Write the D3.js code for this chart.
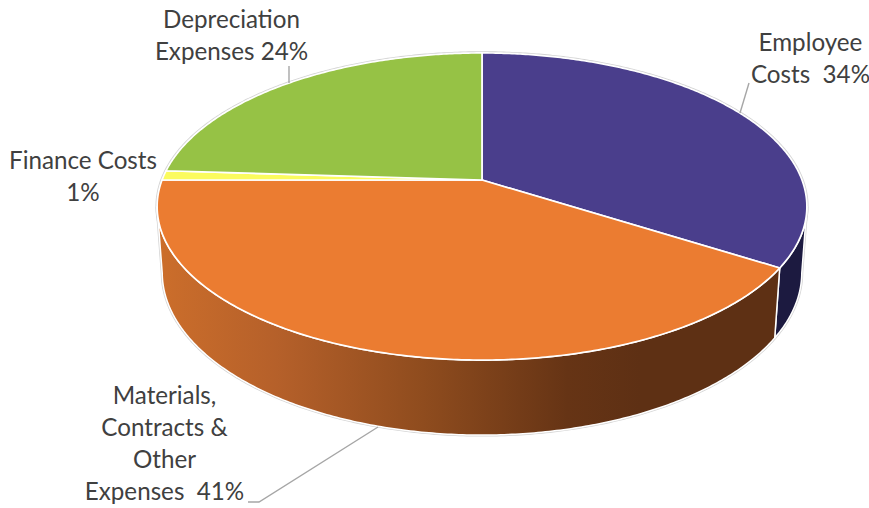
<!DOCTYPE html>
<html>
<head>
<meta charset="utf-8">
<style>
html,body{margin:0;padding:0;background:#fff;}
svg{display:block;}
text{font-family:Lato,"Open Sans",sans-serif;font-size:24.2px;fill:#404040;white-space:pre;}
</style>
<script src="https://cdn.jsdelivr.net/npm/d3@7/dist/d3.min.js"></script>
</head>
<body>
<svg id="chart" width="869" height="508"></svg>
<script>
const categories = ["Employee Costs","Materials, Contracts & Other Expenses","Finance Costs","Depreciation Expenses"];
const values = [34,41,1,24];
const labelLines = [["Employee","Costs  34%"],["Materials,","Contracts &","Other","Expenses  41%"],["Finance Costs","1%"],["Depreciation","Expenses 24%"]];
const topColors = ["#4a3e8c","#eb7c31","#fbfb5e","#96c245"];
const sideColors = ["#1c1a40","url(#orangeSide)","#8a8a30","#55702a"];

// layout
const W=869,H=508;
const cx=482, apexY=180, f=320, g=149, k=0.1726, q=0.0155, m=66;
const visible=[100*Math.PI/180,260*Math.PI/180];
const labelPos=[{x:810.5,y:50.8},{x:164.5,y:403.8},{x:83,y:168.8},{x:231.5,y:27.8}];
const leaders=[[[749,83],[740,113]],[[248,502],[259,502],[378,427]],[],[[289,66],[289,83]]];
const lineH=32;

const svg=d3.select("#chart");
const defs=svg.append("defs");
const grad=defs.append("linearGradient").attr("id","orangeSide").attr("gradientUnits","userSpaceOnUse")
  .attr("x1",157).attr("x2",640).attr("y1",0).attr("y2",0);
[[0,"#cc6e2b"],[0.25,"#b5602a"],[0.55,"#8f4c1e"],[0.85,"#663415"],[1,"#5e3014"]].forEach(s=>grad.append("stop").attr("offset",s[0]).attr("stop-color",s[1]));

// perspective projection of the unit disc; h=0 top plane, h=1 bottom plane
function project(theta,h,r=1){
  const u=r*Math.sin(theta), v=-r*Math.cos(theta), w=1-k*v+q*h;
  return [cx+f*u/w, apexY+(g*v+m*h)/w];
}
const line=d3.line();
const arcs=d3.pie().sort(null).value(d=>d)(values);
const samples=(a,b)=>{const n=Math.max(2,Math.ceil((b-a)/0.01));return d3.range(n+1).map(i=>a+(b-a)*i/n);};

// outer soft outline
svg.append("path").attr("d",line(samples(0,2*Math.PI).map(t=>project(t,0)))+"Z")
  .attr("fill","none").attr("stroke","#d4d4d4").attr("stroke-width",3.4);
const vis=samples(visible[0],visible[1]);
svg.append("path").attr("d",line(vis.map(t=>project(t,0)).concat(vis.slice().reverse().map(t=>project(t,1))))+"Z")
  .attr("fill","none").attr("stroke","#d4d4d4").attr("stroke-width",3);

// sides
arcs.forEach((d,i)=>{
  const a=Math.max(d.startAngle,visible[0]), b=Math.min(d.endAngle,visible[1]);
  if(b<=a) return;
  const ts=samples(a,b);
  const pts=ts.map(t=>project(t,0)).concat(ts.slice().reverse().map(t=>project(t,1)));
  svg.append("path").attr("d",line(pts)+"Z").attr("fill",sideColors[i])
    .attr("stroke","#fff").attr("stroke-width",1.5).attr("stroke-linejoin","round");
});

// top faces
arcs.forEach((d,i)=>{
  const pts=[[cx,apexY]].concat(samples(d.startAngle,d.endAngle).map(t=>project(t,0)));
  svg.append("path").attr("d",line(pts)+"Z").attr("fill",topColors[i])
    .attr("stroke","#fff").attr("stroke-width",1.7).attr("stroke-linejoin","round");
});

// leader lines
leaders.filter(l=>l.length).forEach(l=>svg.append("path").attr("d",line(l)).attr("fill","none")
  .attr("stroke","#a6a6a6").attr("stroke-width",1.4));

// labels
labelLines.forEach((lines,i)=>{
  const t=svg.append("text").attr("text-anchor","middle").attr("aria-label",categories[i]);
  lines.forEach((s,j)=>t.append("tspan").attr("x",labelPos[i].x).attr("y",labelPos[i].y+j*lineH).text(s));
});
</script>
</body>
</html>
